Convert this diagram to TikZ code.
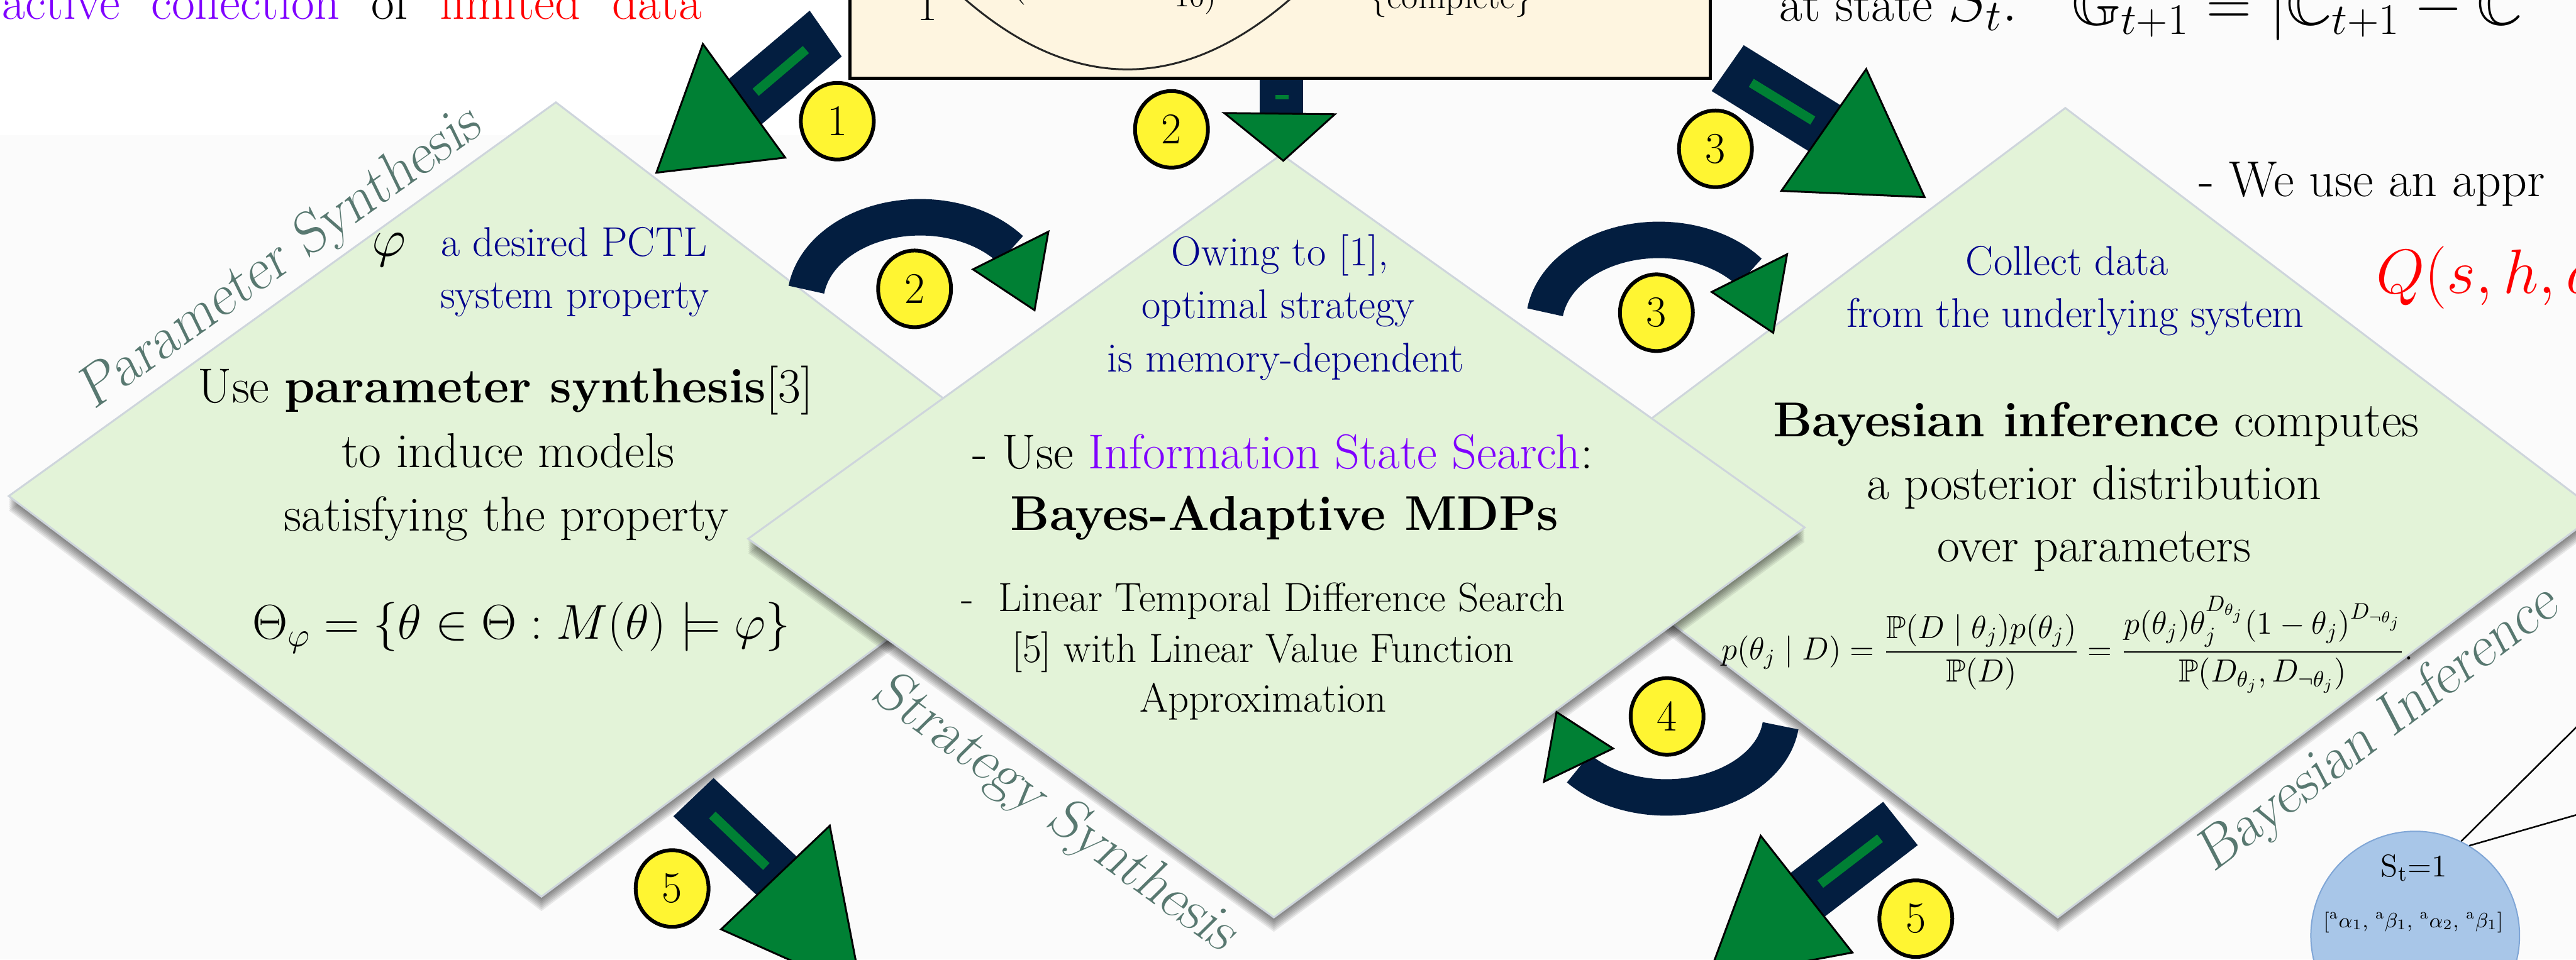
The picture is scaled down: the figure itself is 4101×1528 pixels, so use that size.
\RequirePackage{fix-cm}
\documentclass[tikz,border=0pt]{standalone}
\usepackage{amsmath,amssymb}
\usepackage{fontspec}
\usetikzlibrary{shapes.geometric}

\definecolor{paper}{RGB}{251,251,251}
\definecolor{leaf}{RGB}{227,243,216}
\definecolor{leafedge}{RGB}{206,213,220}
\definecolor{cream}{RGB}{254,245,224}
\definecolor{navy}{RGB}{3,30,64}
\definecolor{tipgreen}{RGB}{0,128,52}
\definecolor{badgey}{RGB}{255,245,50}
\definecolor{inkblue}{RGB}{0,0,140}
\definecolor{hlviolet}{RGB}{128,0,255}
\definecolor{tagteal}{RGB}{88,120,112}
\definecolor{stateblue}{RGB}{168,198,232}
\definecolor{stateedge}{RGB}{128,166,214}

% a light green plate with a soft shadow below it
\newcommand{\plate}[4]{%
  \foreach \s in {2,5,8,11,14,17,20,23}{%
    \fill[black,opacity=0.08,shift={(0,\s)}] #1 -- #2 -- #3 -- #4 -- cycle;}%
  \filldraw[fill=leaf,draw=leafedge,line width=0.03cm] #1 -- #2 -- #3 -- #4 -- cycle;}

\tikzset{
  maintext/.style={anchor=base, inner sep=0pt, font=\fontsize{22.2}{26}\selectfont},
  bluenote/.style={anchor=base, inner sep=0pt, text=inkblue, font=\fontsize{18.8}{22}\selectfont},
  fineprint/.style={anchor=base, inner sep=0pt, font=\fontsize{18.5}{22}\selectfont},
  sidetag/.style={inner sep=0pt, text=tagteal, font=\fontsize{26.5}{30}\selectfont\slshape},
  stepbadge/.style={ellipse, fill=badgey, draw=black, line width=0.06cm,
    minimum width=1.16cm, minimum height=1.22cm, inner sep=0pt,
    font=\fontsize{19.9}{22}\selectfont},
  navyshaft/.style={fill=navy},
  greenstripe/.style={draw=tipgreen, line width=0.15cm},
  headtri/.style={fill=tipgreen, draw=black, line width=0.03cm, line join=miter},
  navyarc/.style={draw=navy, line width=0.58cm},
  headline/.style={anchor=base west, inner sep=0pt, font=\fontsize{22.8}{26}\selectfont},
}

\begin{document}
\begin{tikzpicture}[x=0.01cm,y=-0.01cm]
\useasboundingbox (0,0) rectangle (4101,1528);
\clip (0,0) rectangle (4101,1528);
\fill[paper] (0,0) rectangle (4101,1528);
\fill[white] (0,0) rectangle (1353,215);

% ---------- top strip ----------
\node[headline] (hook) at (3,31)
  {\spaceskip=0.5cm\relax\textcolor{hlviolet}{active collection} of \textcolor{red}{limited data}};

\filldraw[fill=cream, draw=black, line width=0.05cm] (1353,-40) rectangle (2723,125);
\draw[black!85, line width=0.03cm] (1532,-5) .. controls (1707,149) and (1883,149) .. (2058,-5);
\node[anchor=base, inner sep=0pt, font=\fontsize{19.9}{22}\selectfont] (k1) at (1476,33) {1};
\node[anchor=base, inner sep=0pt, font=\fontsize{19.9}{22}\selectfont] (kp) at (1622,-10) {(};
\node[anchor=base, inner sep=0pt, font=\fontsize{14}{16}\selectfont] (k10) at (1903,11) {10)};
\node[anchor=base, inner sep=0pt, font=\fontsize{16.2}{19}\selectfont] (kc) at (2310,14) {\{complete\}};

\node[headline] (st) at (2832,34) {at state {\fontsize{28.4}{32}\selectfont$S_t$:}};
\node[anchor=base west, inner sep=0pt, font=\fontsize{28.4}{32}\selectfont] (gain) at (3298,40)
  {$\mathbb{G}_{t+1} = |\mathbb{C}_{t+1} - \mathbb{C}$};

% ---------- plates ----------
\plate{(885,163)}{(1712,795)}{(862,1428)}{(14,790)}
\node[anchor=base, inner sep=0pt, font=\fontsize{24}{28}\selectfont] (phi) at (619,408) {$\varphi$};
\node[bluenote] (ps0) at (914,408) {a desired PCTL};
\node[bluenote] (ps0b) at (915,491) {system property};
\node[maintext] (ps1) at (805,641) {Use \textbf{parameter synthesis}[3]};
\node[maintext] (ps2) at (809,744) {to induce models};
\node[maintext] (ps3) at (806,846) {satisfying the property};
\node[maintext] (ps4) at (830,1018) {$\Theta_\varphi = \{\theta \in \Theta : M(\theta) \models \varphi\}$};

\plate{(3288,172)}{(4137,816)}{(3276,1461)}{(2430,816)}
\node[bluenote] (bi0) at (3291,438) {Collect data};
\node[bluenote] (bi0b) at (3304,521) {from the underlying system};
\node[maintext] (bi1) at (3337,695) {\textbf{Bayesian inference} computes};
\node[maintext] (bi2) at (3334,795) {a posterior distribution};
\node[maintext] (bi3) at (3334,895) {over parameters};
\node[anchor=base, inner sep=0pt, font=\fontsize{14.5}{17}\selectfont] (bayes) at (3291,1051)
  {$\displaystyle p(\theta_j \mid D) = \frac{\mathbb{P}(D \mid \theta_j)p(\theta_j)}{\mathbb{P}(D)}
   = \frac{p(\theta_j)\theta_j^{D_{\theta_j}}(1-\theta_j)^{D_{\neg\theta_j}}}{\mathbb{P}(D_{\theta_j}, D_{\neg\theta_j})}.$};

\plate{(2040,246)}{(2873,840)}{(2028,1461)}{(1191,858)}
\node[bluenote] (ss0) at (2038,423) {Owing to [1],};
\node[bluenote] (ss0b) at (2035,507) {optimal strategy};
\node[bluenote] (ss0c) at (2047,592) {is memory-dependent};
\node[maintext] (ss1) at (2042,746) {- Use \textcolor{hlviolet}{Information State Search}:};
\node[maintext] (ss2) at (2045,845) {\textbf{Bayes-Adaptive MDPs}};
\node[fineprint] (ss3) at (2011,974) {-\ \ Linear Temporal Difference Search};
\node[fineprint] (ss4) at (2011,1055) {[5] with Linear Value Function};
\node[fineprint] (ss5) at (2011,1134) {Approximation};

% ---------- side titles ----------
\node[sidetag, rotate=35.5] (tps) at (447,413) {Parameter Synthesis};
\node[sidetag, rotate=-36] (tss) at (1678,1296) {Strategy Synthesis};
\node[sidetag, rotate=37] (tbi) at (3787,1163) {Bayesian Inference};

% ---------- right side notes ----------
\node[headline] (we) at (3500,313) {- We use an appr};
\node[anchor=base west, inner sep=0pt, text=red, font=\fontsize{28.4}{32}\selectfont] (qf) at (3782,467) {$Q(s,h,a$};

% ---------- straight arrows ----------
% 1: box -> parameter synthesis
\fill[navyshaft] (1289,17) -- (1340,90) -- (1191,216) -- (1140,143) -- cycle;
\draw[greenstripe] (1283,79) -- (1203,147);
\filldraw[headtri] (1119,70) -- (1045,275) -- (1250,251) -- cycle;
% 2: box -> strategy synthesis
\fill[navyshaft] (2005,127) rectangle (2075,200);
\fill[tipgreen] (2030,151) rectangle (2051,158);
\filldraw[headtri] (1949,180) -- (2125,182) -- (2043,256) -- cycle;
% 3: box -> bayesian inference
\fill[navyshaft] (2776,72) -- (2971,193) -- (2920,266) -- (2725,145) -- cycle;
\draw[greenstripe] (2788,132) -- (2886,192);
\filldraw[headtri] (2971,110) -- (2836,304) -- (3064,314) -- cycle;
% 5: outputs
\fill[navyshaft] (1136,1239) -- (1303,1397) -- (1239,1458) -- (1072,1300) -- cycle;
\draw[greenstripe] (1134,1298) -- (1220,1380);
\filldraw[headtri] (1321,1315) -- (1148,1480) -- (1372,1580) -- cycle;
\fill[navyshaft] (2998,1277) -- (3053,1346) -- (2863,1492) -- (2808,1423) -- cycle;
\draw[greenstripe] (2993,1335) -- (2898,1408);
\filldraw[headtri] (2803,1331) -- (2718,1560) -- (2949,1517) -- cycle;

% ---------- curved arrows ----------
\draw[navyarc] plot[domain=188:322, samples=60, variable=\t] ({1465+183*cos(\t)}, {480+134*sin(\t)});
\filldraw[headtri] (1669,369) -- (1549,429) -- (1647,494) -- cycle;
\draw[navyarc] plot[domain=188:322, samples=60, variable=\t] ({2641+183*cos(\t)}, {516+134*sin(\t)});
\filldraw[headtri] (2845,405) -- (2725,465) -- (2823,530) -- cycle;
\draw[navyarc] plot[domain=7:140, samples=60, variable=\t] ({2653+183*cos(\t)}, {1140+130*sin(\t)});
\filldraw[headtri] (2478,1134) -- (2568,1192) -- (2458,1245) -- cycle;

% ---------- step badges ----------
\node[stepbadge] (n1) at (1333,193) {1};
\node[stepbadge] (n2a) at (1865,206) {2};
\node[stepbadge] (n3a) at (2731,237) {3};
\node[stepbadge] (n2b) at (1456,460) {2};
\node[stepbadge] (n3b) at (2637,498) {3};
\node[stepbadge] (n4) at (2654,1141) {4};
\node[stepbadge] (n5a) at (1070,1415) {5};
\node[stepbadge] (n5b) at (3050,1463) {5};

% ---------- belief state ----------
\node[circle, fill=stateblue, draw=stateedge, line width=0.02cm, minimum size=3.32cm, inner sep=0pt] (stc) at (3845,1490) {};
\node[anchor=base, inner sep=0pt, font=\fontsize{14.2}{16}\selectfont] (stl) at (3843,1396) {S$_{\mathrm{t}}$=1};
\node[anchor=base, inner sep=0pt, font=\fontsize{9.4}{11}\selectfont] (stp) at (3842,1477)
  {[$^{\mathrm{a}}\alpha_1$, $^{\mathrm{a}}\beta_1$, $^{\mathrm{a}}\alpha_2$, $^{\mathrm{a}}\beta_1$]};
\coordinate (e1) at (4160,1100);
\coordinate (e2) at (4160,1281);
\draw[line width=0.025cm] (stc.64) -- (e1);
\draw[line width=0.025cm] (stc.59) -- (e2);
\end{tikzpicture}
\end{document}
